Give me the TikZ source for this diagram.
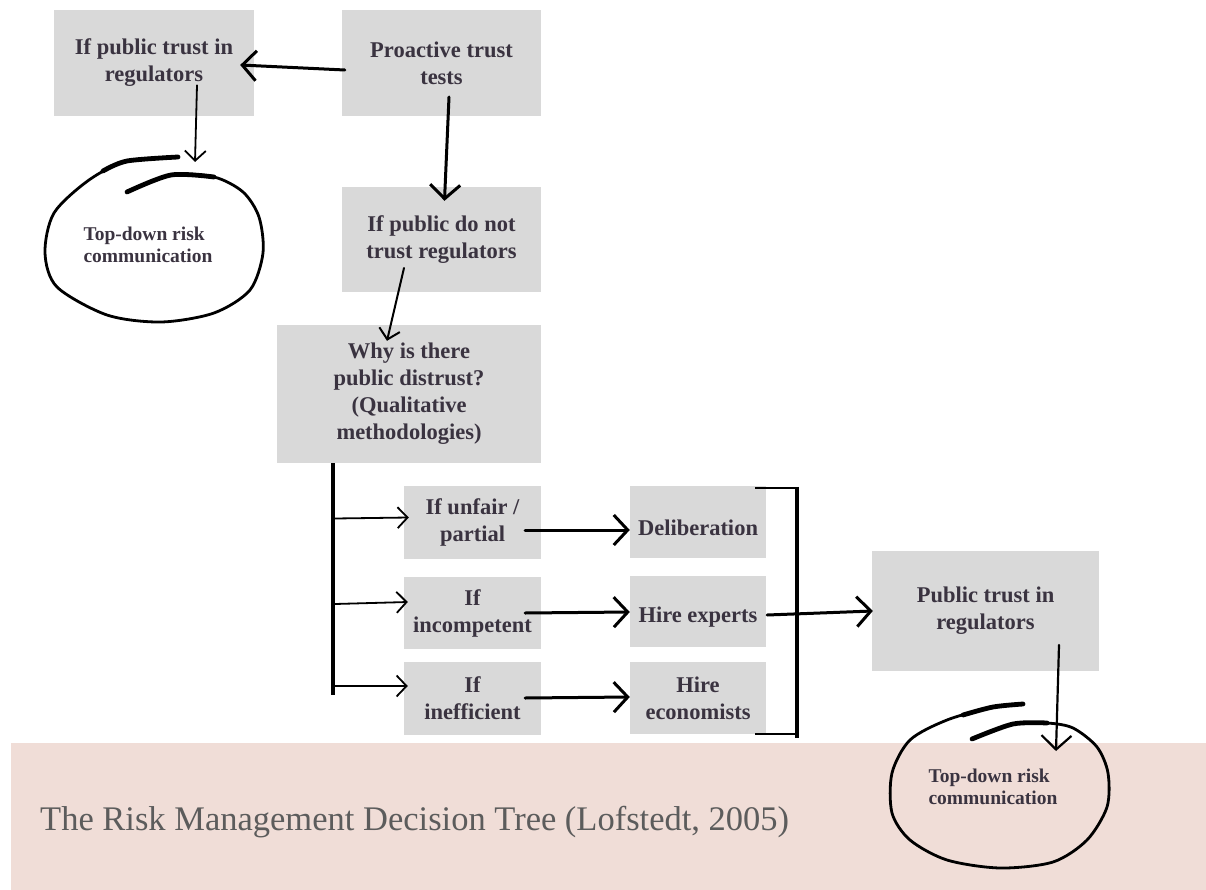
\documentclass[tikz,border=0pt]{standalone}
\usepackage{fontspec}
\setmainfont{Liberation Serif}
\usetikzlibrary{arrows.meta,calc}
\definecolor{boxgray}{HTML}{D9D9D9}
\definecolor{txt}{HTML}{3A3340}
\definecolor{band}{HTML}{F0DDD7}
\definecolor{ttl}{HTML}{5C5C5C}
\tikzset{
  bigbarb/.tip={Straight Barb[length=14pt,width=30pt]},
  smallbarb/.tip={Straight Barb[length=10pt,width=21pt]},
  box/.style={fill=boxgray, inner sep=0pt, text=txt, align=center,
    font=\bfseries\fontsize{22.5}{27}\selectfont},
  etext/.style={text=txt, align=left, inner sep=0pt,
    font=\bfseries\fontsize{19.5}{21.5}\selectfont},
  thickarrow/.style={line width=3pt, line cap=round, -bigbarb},
  thinarrow/.style={line width=1.8pt, line cap=round, -smallbarb},
  barline/.style={line width=4.2pt},
  tickline/.style={line width=1.5pt},
  stroke/.style={line width=2.8pt, line cap=round, line join=round},
  heavystroke/.style={line width=4.8pt, line cap=round, line join=round}
}
\begin{document}
\begin{tikzpicture}[x=1pt,y=-1pt]
\useasboundingbox (0,0) rectangle (1206,890);
% band
\fill[band] (11,743) rectangle (1206,890);
\node[anchor=base west, text=ttl, inner sep=0pt, font=\fontsize{34.5}{40}\selectfont] (title) at (40,830) {The Risk Management Decision Tree (Lofstedt, 2005)};

% boxes
\node[box, minimum width=200pt, minimum height=106pt] (b1) at (154,63) {If public trust in\\regulators};
\node[box, minimum width=199pt, minimum height=106pt] (b2) at (441.5,63) {Proactive trust\\tests};
\node[box, minimum width=199pt, minimum height=105pt] (b3) at (441.5,239.5) {If public do not\\trust regulators};
\node[box, minimum width=264pt, minimum height=138pt] (b4) at (409,394) {Why is there\\public distrust?\\(Qualitative\\methodologies)};
\node[box, minimum width=137pt, minimum height=73pt] (b5) at (472.5,522.5) {If unfair /\\partial};
\node[box, minimum width=137pt, minimum height=72pt] (b6) at (472.5,613) {If\\incompetent};
\node[box, minimum width=137pt, minimum height=73pt] (b7) at (472.5,698.5) {If\\inefficient};
\node[box, minimum width=136pt, minimum height=72pt, text height=27pt, text depth=0pt] (b8) at (698,522) {Deliberation};
\node[box, minimum width=136pt, minimum height=71pt, text height=21pt, text depth=0pt] (b9) at (698,611.5) {Hire experts};
\node[box, minimum width=136pt, minimum height=72pt] (b10) at (698,698) {Hire\\economists};
\node[box, minimum width=227pt, minimum height=120pt] (b11) at (985.5,611) {Public trust in\\regulators};

% ellipse texts
\node[etext] (e1) at (148,245) {Top-down risk\\communication};
\node[etext] (e2) at (993,787) {Top-down risk\\communication};

% hand-drawn ellipses
\begin{scope}[shift={(e1.center)}]
\draw[stroke] plot[smooth] coordinates {(30,-88) (-21,-84) (-59,-65) (-94,-32) (-103,8) (-91,42) (-41,70) (13,77) (66,68) (102,45) (115,8) (111,-28) (95,-53) (66,-68) (23,-70) (-21,-53)};
\draw[heavystroke] plot[smooth] coordinates {(30,-88) (-21,-84) (-45,-74)};
\draw[heavystroke] plot[smooth] coordinates {(66,-68) (23,-70) (-21,-53)};
\end{scope}
\begin{scope}[shift={(e2.center)}]
\draw[stroke] plot[smooth] coordinates {(30,-83) (0,-80) (-46,-67) (-83,-47) (-101,-14) (-101,26) (-83,53) (-46,73) (7,81) (60,75) (94,53) (114,20) (115,-14) (104,-40) (80,-59) (54,-64) (20,-63) (-21,-48)};
\draw[heavystroke] plot[smooth] coordinates {(30,-83) (0,-80) (-30,-72)};
\draw[heavystroke] plot[smooth] coordinates {(54,-64) (20,-63) (-21,-48)};
\end{scope}

% connectors top
\draw[thickarrow] ($(b2.west)+(3,7)$) -- ($(b1.east)+(-14,2)$);
\draw[thinarrow] ($(b1.south)+(43,-31)$) -- ($(e1.center)+(47,-83)$);
\draw[thickarrow] ($(b2.center)+(7.5,34)$) -- ($(b3.north)+(3,14)$);
\draw[thinarrow, line width=2pt] ($(b3.center)+(-37.5,28.5)$) -- ($(b4.north)+(-22,16)$);

% left bracket
\coordinate (vtop) at ($(b4.south)+(-76,0)$);
\coordinate (vbot) at ($(b4.south)+(-76,232)$);
\draw[barline] (vtop) -- (vbot);
\draw[thinarrow] ($(vtop |- b5.west)+(2,-4)$) -- ($(b5.west)+(5,-5)$);
\draw[thinarrow] ($(vtop |- b6.west)+(2,-9)$) -- ($(b6.west)+(4,-11)$);
\draw[thinarrow] ($(vtop |- b7.west)+(2,-12.5)$) -- ($(b7.west)+(4,-12.5)$);

% middle arrows
\draw[thickarrow] ($(b5.east)+(-16,7.5)$) -- ($(b8.west)+(0,8)$);
\draw[thickarrow] ($(b6.east)+(-16,0)$) -- ($(b9.west)+(0,0.5)$);
\draw[thickarrow] ($(b7.east)+(-16,-0.5)$) -- ($(b10.west)+(0,-1)$);

% right bracket
\coordinate (rtop) at ($(b8.north east)+(31,1)$);
\coordinate (rbot) at ($(b10.south east)+(31,4)$);
\draw[barline] (rtop) -- (rbot);
\draw[tickline] ($(b8.north east)+(-11,2)$) -- ($(rtop)+(0,1)$);
\draw[tickline] ($(b10.south east)+(-11,0)$) -- ($(b10.south east)+(31,0)$);

\draw[thickarrow] ($(b9.east)+(1,3.5)$) -- ($(b11.west)+(1,0)$);
\draw[line width=2.2pt, line cap=round, -bigbarb] ($(b11.center)+(73.5,34)$) -- ($(e2.center)+(63,-36)$);
\end{tikzpicture}
\end{document}
